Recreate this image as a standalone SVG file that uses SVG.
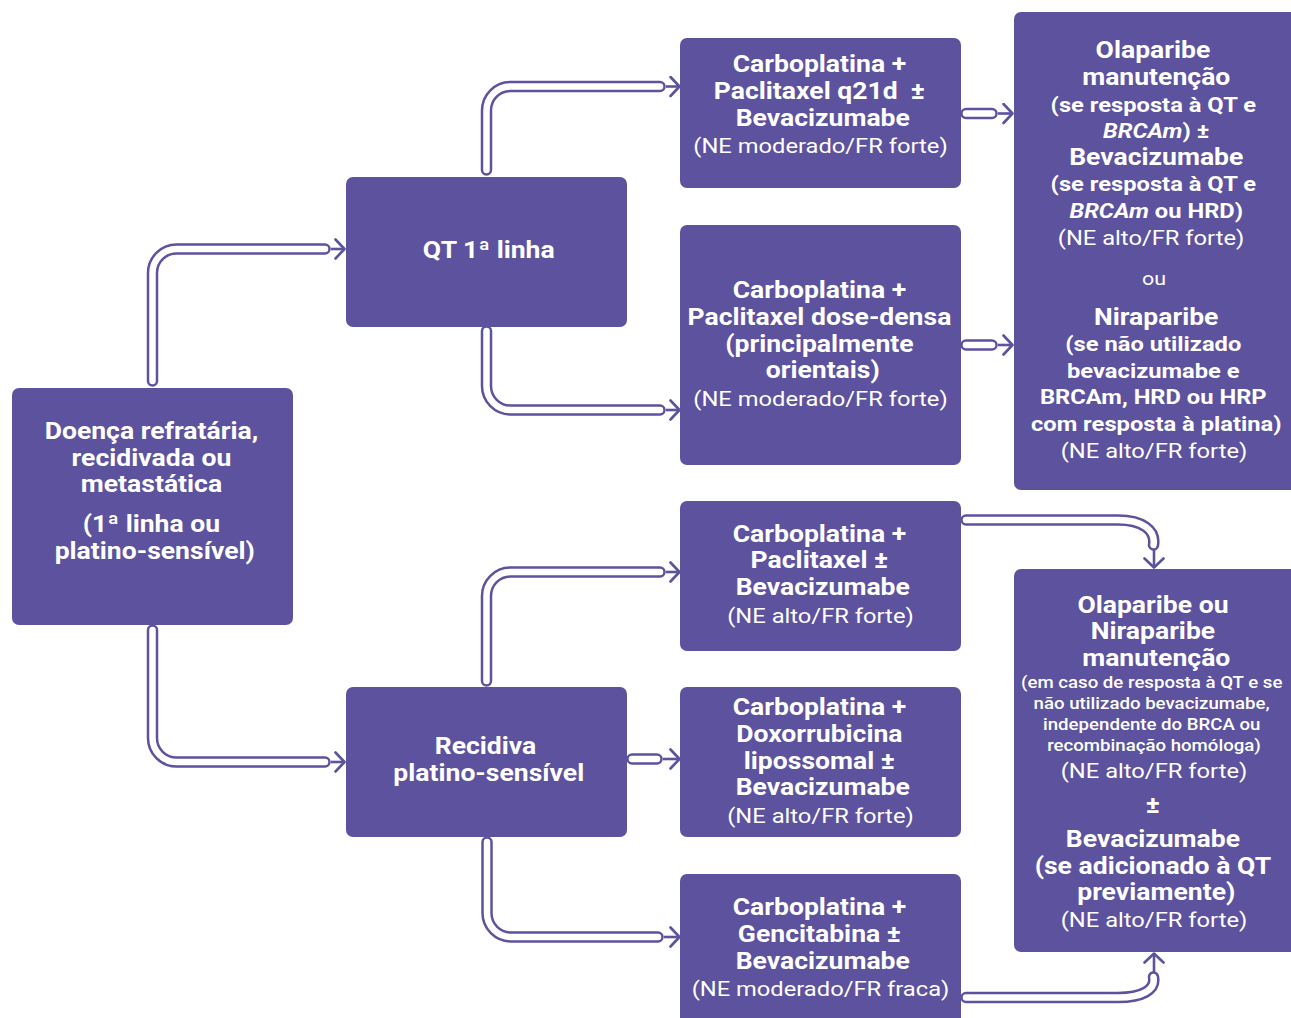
<svg xmlns="http://www.w3.org/2000/svg" width="1291" height="1018" viewBox="0 0 1291 1018">
  <defs>
    <style>
      .box { fill: #5d529e; }
      .t { font-family: Roboto, "Liberation Sans", sans-serif; fill: #ffffff; text-anchor: middle; }
      .b { font-weight: 700; font-size: 23.5px; transform: translate(2px, 0); }
      .m { font-weight: 700; font-size: 21px; transform: translate(2px, 0); }
      .r { font-weight: 400; font-size: 21px; }
      .s { font-weight: 500; font-size: 16.5px; }
      .i { font-style: italic; }
      .tube-o { fill: none; stroke: #5d529e; stroke-width: 11.5; stroke-linecap: round; stroke-linejoin: round; }
      .tube-i { fill: none; stroke: #ffffff; stroke-width: 6.5; stroke-linecap: round; stroke-linejoin: round; }
      .tip { fill: none; stroke: #5d529e; stroke-width: 2.6; marker-end: url(#chev); }
    </style>
    <marker id="chev" markerUnits="userSpaceOnUse" viewBox="0 0 12 22" refX="10.5" refY="11" markerWidth="12" markerHeight="22" orient="auto">
      <path d="M1.5,1.5 L10.5,11 L1.5,20.5" fill="none" stroke="#5d529e" stroke-width="2.6" stroke-linecap="round" stroke-linejoin="round"/>
    </marker>
    <!-- tube centre lines, stroked twice below (purple outline, white core) -->
    <path id="p1" d="M152.5,381 V273 A24,24 0 0 1 176.5,249 H325"/>
    <path id="p2" d="M486.5,170 V110.5 A24,24 0 0 1 510.5,86.5 H660"/>
    <path id="p3" d="M486.5,331 V386 A24,24 0 0 0 510.5,410 H660"/>
    <path id="p4" d="M152.5,630 V738 A24,24 0 0 0 176.5,762 H325"/>
    <path id="p5" d="M486.5,681 V596 A24,24 0 0 1 510.5,572 H660"/>
    <path id="p6" d="M632,759 H657"/>
    <path id="p7" d="M487,842 V913 A24,24 0 0 0 511,937 H658"/>
    <path id="p8" d="M966,113.5 H992"/>
    <path id="p9" d="M966,345 H992"/>
    <path id="p10" d="M966,520 H1118 C1142,520 1156,530 1153.5,545"/>
    <path id="p11" d="M966,997.5 H1118 C1142,997.5 1156,990 1153.5,977"/>
  </defs>

  <rect width="1291" height="1018" fill="#ffffff"/>

  <!-- connectors: hollow tubes followed by a thin arrow -->
  <g id="connectors">
    <use href="#p1" class="tube-o"/><use href="#p1" class="tube-i"/>
    <use href="#p2" class="tube-o"/><use href="#p2" class="tube-i"/>
    <use href="#p3" class="tube-o"/><use href="#p3" class="tube-i"/>
    <use href="#p4" class="tube-o"/><use href="#p4" class="tube-i"/>
    <use href="#p5" class="tube-o"/><use href="#p5" class="tube-i"/>
    <use href="#p6" class="tube-o"/><use href="#p6" class="tube-i"/>
    <use href="#p7" class="tube-o"/><use href="#p7" class="tube-i"/>
    <use href="#p8" class="tube-o"/><use href="#p8" class="tube-i"/>
    <use href="#p9" class="tube-o"/><use href="#p9" class="tube-i"/>
    <use href="#p10" class="tube-o"/><use href="#p10" class="tube-i"/>
    <use href="#p11" class="tube-o"/><use href="#p11" class="tube-i"/>
    <path class="tip" d="M331,249 H344.5"/>
    <path class="tip" d="M666,86.5 H679.5"/>
    <path class="tip" d="M666,410 H679.5"/>
    <path class="tip" d="M331,762 H344.5"/>
    <path class="tip" d="M666,572 H679.5"/>
    <path class="tip" d="M663,759 H679.5"/>
    <path class="tip" d="M664,937 H679.5"/>
    <path class="tip" d="M998,113.5 H1012.5"/>
    <path class="tip" d="M998,345 H1012.5"/>
    <path class="tip" d="M1154,550 V567.5"/>
    <path class="tip" d="M1154,972 V953.5"/>
  </g>

  <!-- text in every column is set slightly wide: x scaled by 1.13 about the column centre -->
  <g id="n-doenca">
    <rect class="box" x="12" y="388" width="281" height="237" rx="7"/>
    <g transform="matrix(1.13,0,0,1,-19.825,0)">
      <text class="t b">
        <tspan x="152.5" y="439">Doença refratária,</tspan>
        <tspan x="152.5" y="466">recidivada ou</tspan>
        <tspan x="152.5" y="492">metastática</tspan>
        <tspan x="152.5" y="532">(1ª linha ou</tspan>
        <tspan x="152.5" y="559">platino-sensível)</tspan>
      </text>
    </g>
  </g>

  <g id="n-qt1">
    <rect class="box" x="346" y="177" width="281" height="150" rx="7"/>
    <g transform="matrix(1.13,0,0,1,-63.245,0)">
      <text class="t b"><tspan x="486.5" y="258">QT 1ª linha</tspan></text>
    </g>
  </g>

  <g id="n-recidiva">
    <rect class="box" x="346" y="687" width="281" height="150" rx="7"/>
    <g transform="matrix(1.13,0,0,1,-63.245,0)">
      <text class="t b">
        <tspan x="486.5" y="754">Recidiva</tspan>
        <tspan x="486.5" y="781">platino-sensível</tspan>
      </text>
    </g>
  </g>

  <g id="n-carbo-q21d">
    <rect class="box" x="680" y="38" width="281" height="150" rx="7"/>
    <g transform="matrix(1.13,0,0,1,-106.665,0)">
      <text class="t b">
        <tspan x="820.5" y="72">Carboplatina +</tspan>
        <tspan x="820.5" y="99">Paclitaxel q21d&#160; ±</tspan>
        <tspan x="820.5" y="126">Bevacizumabe</tspan>
      </text>
      <text class="t r"><tspan x="820.5" y="153">(NE moderado/FR forte)</tspan></text>
    </g>
  </g>

  <g id="n-carbo-densa">
    <rect class="box" x="680" y="225" width="281" height="240" rx="7"/>
    <g transform="matrix(1.13,0,0,1,-106.665,0)">
      <text class="t b">
        <tspan x="820.5" y="298">Carboplatina +</tspan>
        <tspan x="820.5" y="325">Paclitaxel dose-densa</tspan>
        <tspan x="820.5" y="352">(principalmente</tspan>
        <tspan x="820.5" y="378">orientais)</tspan>
      </text>
      <text class="t r"><tspan x="820.5" y="406">(NE moderado/FR forte)</tspan></text>
    </g>
  </g>

  <g id="n-carbo-pacli">
    <rect class="box" x="680" y="501" width="281" height="150" rx="7"/>
    <g transform="matrix(1.13,0,0,1,-106.665,0)">
      <text class="t b">
        <tspan x="820.5" y="542">Carboplatina +</tspan>
        <tspan x="820.5" y="568">Paclitaxel ±</tspan>
        <tspan x="820.5" y="595">Bevacizumabe</tspan>
      </text>
      <text class="t r"><tspan x="820.5" y="623">(NE alto/FR forte)</tspan></text>
    </g>
  </g>

  <g id="n-carbo-doxo">
    <rect class="box" x="680" y="687" width="281" height="150" rx="7"/>
    <g transform="matrix(1.13,0,0,1,-106.665,0)">
      <text class="t b">
        <tspan x="820.5" y="715">Carboplatina +</tspan>
        <tspan x="820.5" y="742">Doxorrubicina</tspan>
        <tspan x="820.5" y="769">lipossomal ±</tspan>
        <tspan x="820.5" y="795">Bevacizumabe</tspan>
      </text>
      <text class="t r"><tspan x="820.5" y="823">(NE alto/FR forte)</tspan></text>
    </g>
  </g>

  <g id="n-carbo-genci">
    <rect class="box" x="680" y="874" width="281" height="160" rx="7"/>
    <g transform="matrix(1.13,0,0,1,-106.665,0)">
      <text class="t b">
        <tspan x="820.5" y="915">Carboplatina +</tspan>
        <tspan x="820.5" y="942">Gencitabina ±</tspan>
        <tspan x="820.5" y="969">Bevacizumabe</tspan>
      </text>
      <text class="t r"><tspan x="820.5" y="996">(NE moderado/FR fraca)</tspan></text>
    </g>
  </g>

  <g id="n-manut-1">
    <rect class="box" x="1014" y="12" width="290" height="478" rx="7"/>
    <g transform="matrix(1.13,0,0,1,-150.02,0)">
      <text class="t b">
        <tspan x="1154" y="58">Olaparibe</tspan>
        <tspan x="1154" y="85">manutenção</tspan>
      </text>
      <text class="t m">
        <tspan x="1154" y="112">(se resposta à QT e</tspan>
        <tspan x="1154" y="138"><tspan class="i">BRCAm</tspan>) ±</tspan>
      </text>
      <text class="t b"><tspan x="1154" y="165">Bevacizumabe</tspan></text>
      <text class="t m">
        <tspan x="1154" y="191">(se resposta à QT e</tspan>
        <tspan x="1154" y="218"><tspan class="i">BRCAm</tspan> ou HRD)</tspan>
      </text>
      <text class="t r">
        <tspan x="1154" y="245">(NE alto/FR forte)</tspan>
        <tspan x="1154" y="285" font-size="19px">ou</tspan>
      </text>
      <text class="t b"><tspan x="1154" y="325">Niraparibe</tspan></text>
      <text class="t m">
        <tspan x="1154" y="351">(se não utilizado</tspan>
        <tspan x="1154" y="378">bevacizumabe e</tspan>
        <tspan x="1154" y="404">BRCAm, HRD ou HRP</tspan>
        <tspan x="1154" y="431">com resposta à platina)</tspan>
      </text>
      <text class="t r"><tspan x="1154" y="458">(NE alto/FR forte)</tspan></text>
    </g>
  </g>

  <g id="n-manut-2">
    <rect class="box" x="1014" y="569" width="290" height="383" rx="7"/>
    <g transform="matrix(1.13,0,0,1,-150.02,0)">
      <text class="t b">
        <tspan x="1154" y="613">Olaparibe ou</tspan>
        <tspan x="1154" y="639">Niraparibe</tspan>
        <tspan x="1154" y="666">manutenção</tspan>
      </text>
      <text class="t s">
        <tspan x="1154" y="688">(em caso de resposta à QT e se</tspan>
        <tspan x="1154" y="709">não utilizado bevacizumabe,</tspan>
        <tspan x="1154" y="730">independente do BRCA ou</tspan>
        <tspan x="1154" y="751">recombinação homóloga)</tspan>
      </text>
      <text class="t r"><tspan x="1154" y="778">(NE alto/FR forte)</tspan></text>
      <text class="t b">
        <tspan x="1154" y="813">±</tspan>
        <tspan x="1154" y="847">Bevacizumabe</tspan>
        <tspan x="1154" y="874">(se adicionado à QT</tspan>
        <tspan x="1154" y="900">previamente)</tspan>
      </text>
      <text class="t r"><tspan x="1154" y="927">(NE alto/FR forte)</tspan></text>
    </g>
  </g>
</svg>
